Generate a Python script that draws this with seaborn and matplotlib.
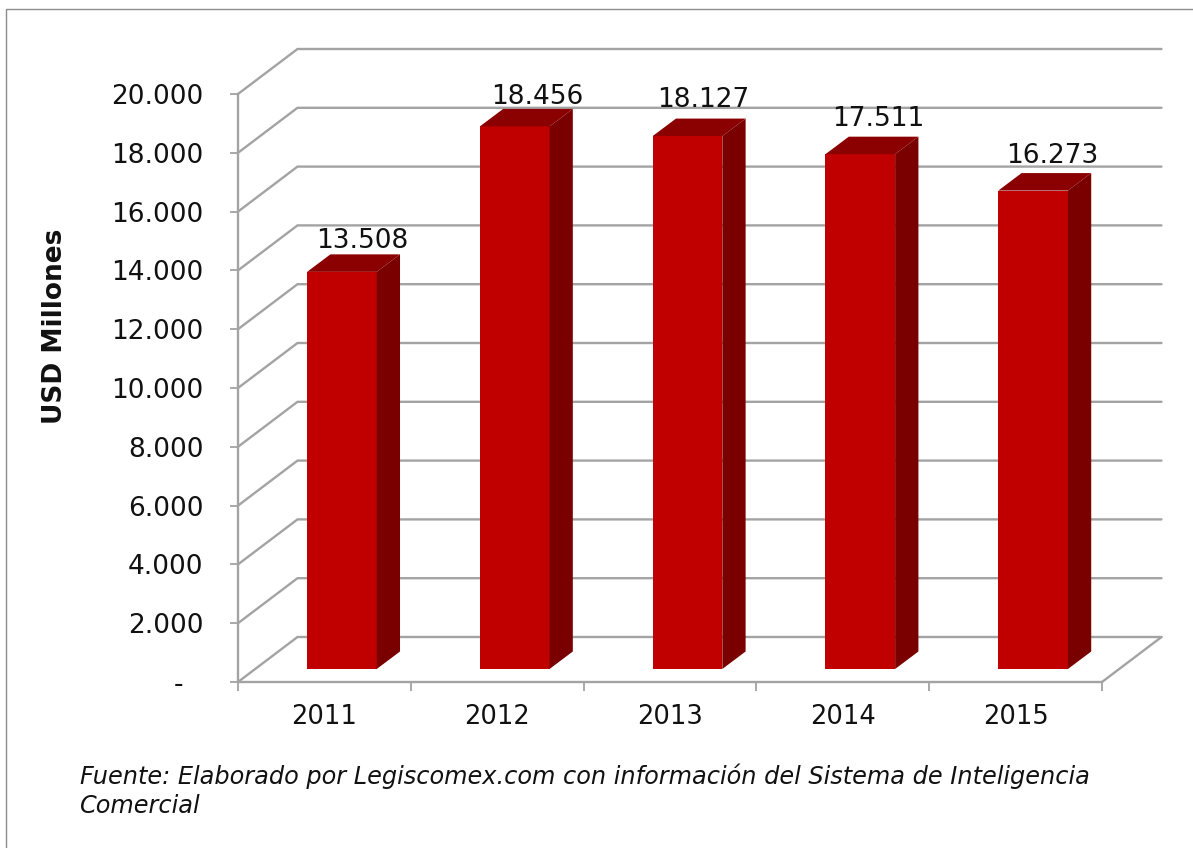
import matplotlib
matplotlib.use("Agg")
import matplotlib.pyplot as plt
from matplotlib.lines import Line2D
from matplotlib.transforms import Affine2D
import pandas as pd
import seaborn as sns

years = ["2011", "2012", "2013", "2014", "2015"]
values = [13508, 18456, 18127, 17511, 16273]
value_labels = ["13.508", "18.456", "18.127", "17.511", "16.273"]
y_ticks = [0, 2000, 4000, 6000, 8000, 10000, 12000, 14000, 16000, 18000, 20000]
y_tick_labels = ["-", "2.000", "4.000", "6.000", "8.000", "10.000", "12.000",
                 "14.000", "16.000", "18.000", "20.000"]
y_title = "USD Millones"
source_lines = ["Fuente: Elaborado por Legiscomex.com con información del Sistema de Inteligencia",
                "Comercial"]

W, H = 1193, 848
GREY = "#a3a3a3"

# the labels were placed by hand in the original, small nudges in pixels
label_nudge_x = [1, 3, -4, -2, -1]
label_nudge_y = [0, -2, 5, 4, 4]

sns.set_theme(style="white")
plt.rcParams["font.family"] = ["DejaVu Sans"]

fig = plt.figure(figsize=(W / 100, H / 100), dpi=100, facecolor="white")
ax = fig.add_axes([238 / W, (H - 682) / H, 864 / W, 588 / H])

df = pd.DataFrame({"year": years, "value": values})
sns.barplot(data=df, x="year", y="value", color="#C00000", saturation=1,
            width=0.403, ax=ax, zorder=3, edgecolor="none", linewidth=0)

ax.set_xlim(-0.5, 4.5)
ax.set_ylim(0, 20000)

# fake 3D: pixels to data units
px_x = 1 / (864 / 5)
px_y = 20000 / 588
wall_dx, wall_dy = 59.5 * px_x, 45 * px_y
bar_shift_x, bar_shift_y = 17.5 * px_x, 13 * px_y
bar_dx, bar_dy = 23.3 * px_x, 17.5 * px_y

# back wall lines and the diagonals that lead to them
for t in y_ticks:
    ax.plot([-0.5, -0.5 + wall_dx, 4.5 + wall_dx], [t, t + wall_dy, t + wall_dy],
            color=GREY, lw=1.7, clip_on=False, zorder=1, solid_joinstyle="miter")
ax.plot([4.5, 4.5 + wall_dx], [0, wall_dy], color=GREY, lw=1.7, clip_on=False, zorder=1)

# move bars off the front plane, add top and side faces
for i, (patch, txt) in enumerate(zip(ax.patches, value_labels)):
    patch.set_x(patch.get_x() + bar_shift_x)
    patch.set_y(bar_shift_y)
    patch.set_clip_on(False)
    x0, x1 = patch.get_x(), patch.get_x() + patch.get_width()
    y0, y1 = patch.get_y(), patch.get_y() + patch.get_height()
    ax.fill([x0, x1, x1 + bar_dx, x0 + bar_dx], [y1, y1, y1 + bar_dy, y1 + bar_dy],
            color="#8B0000", lw=0, clip_on=False, zorder=3)
    ax.fill([x1, x1 + bar_dx, x1 + bar_dx, x1], [y0, y0 + bar_dy, y1 + bar_dy, y1],
            color="#7A0000", lw=0, clip_on=False, zorder=3)
    ax.text((x0 + x1) / 2 + bar_dx * 0.85 + label_nudge_x[i] * px_x,
            y1 + bar_dy + (6.5 + label_nudge_y[i]) * px_y, txt,
            ha="center", va="baseline", fontsize=19, color="#111111", zorder=4)

sns.despine(ax=ax)
for side in ["left", "bottom"]:
    ax.spines[side].set_color(GREY)
    ax.spines[side].set_linewidth(1.7)

ax.set_yticks(y_ticks)
ax.set_yticklabels(y_tick_labels, fontsize=19, color="#111111")
ax.tick_params(axis="y", length=6, width=1.3, color=GREY, pad=19, left=True)
ax.set_xticks(range(len(years)))
ax.set_xticklabels(years, fontsize=18.5, color="#111111")
ax.set_xticks([i - 0.5 for i in range(len(years) + 1)], minor=True)
ax.tick_params(axis="x", which="major", length=0, pad=16, bottom=False)
ax.tick_params(axis="x", which="minor", length=6.5, width=1.3, color=GREY, bottom=True)
ax.set_xlabel("")
ax.set_ylabel("")

# the dash for zero sits away from the other labels
zero_label = ax.get_yticklabels()[0]
zero_label.set_transform(zero_label.get_transform() + Affine2D().translate(-20, 0))

fig.text(55 / W, (H - 326) / H, y_title, rotation=90, ha="center", va="center",
         fontsize=19, fontweight="bold", color="#111111")
fig.text(80 / W, (H - 784) / H, source_lines[0], ha="left", va="baseline",
         fontsize=17.3, style="italic", color="#111111")
fig.text(80 / W, (H - 813) / H, source_lines[1], ha="left", va="baseline",
         fontsize=17.3, style="italic", color="#111111")

# outer frame, cropped by the picture on two sides
fig.add_artist(Line2D([6.5 / W, 6.5 / W, 1], [0, (H - 8.5) / H, (H - 8.5) / H],
                      color="#8c8c8c", lw=1.0))

fig.savefig("out.png", dpi=100)
